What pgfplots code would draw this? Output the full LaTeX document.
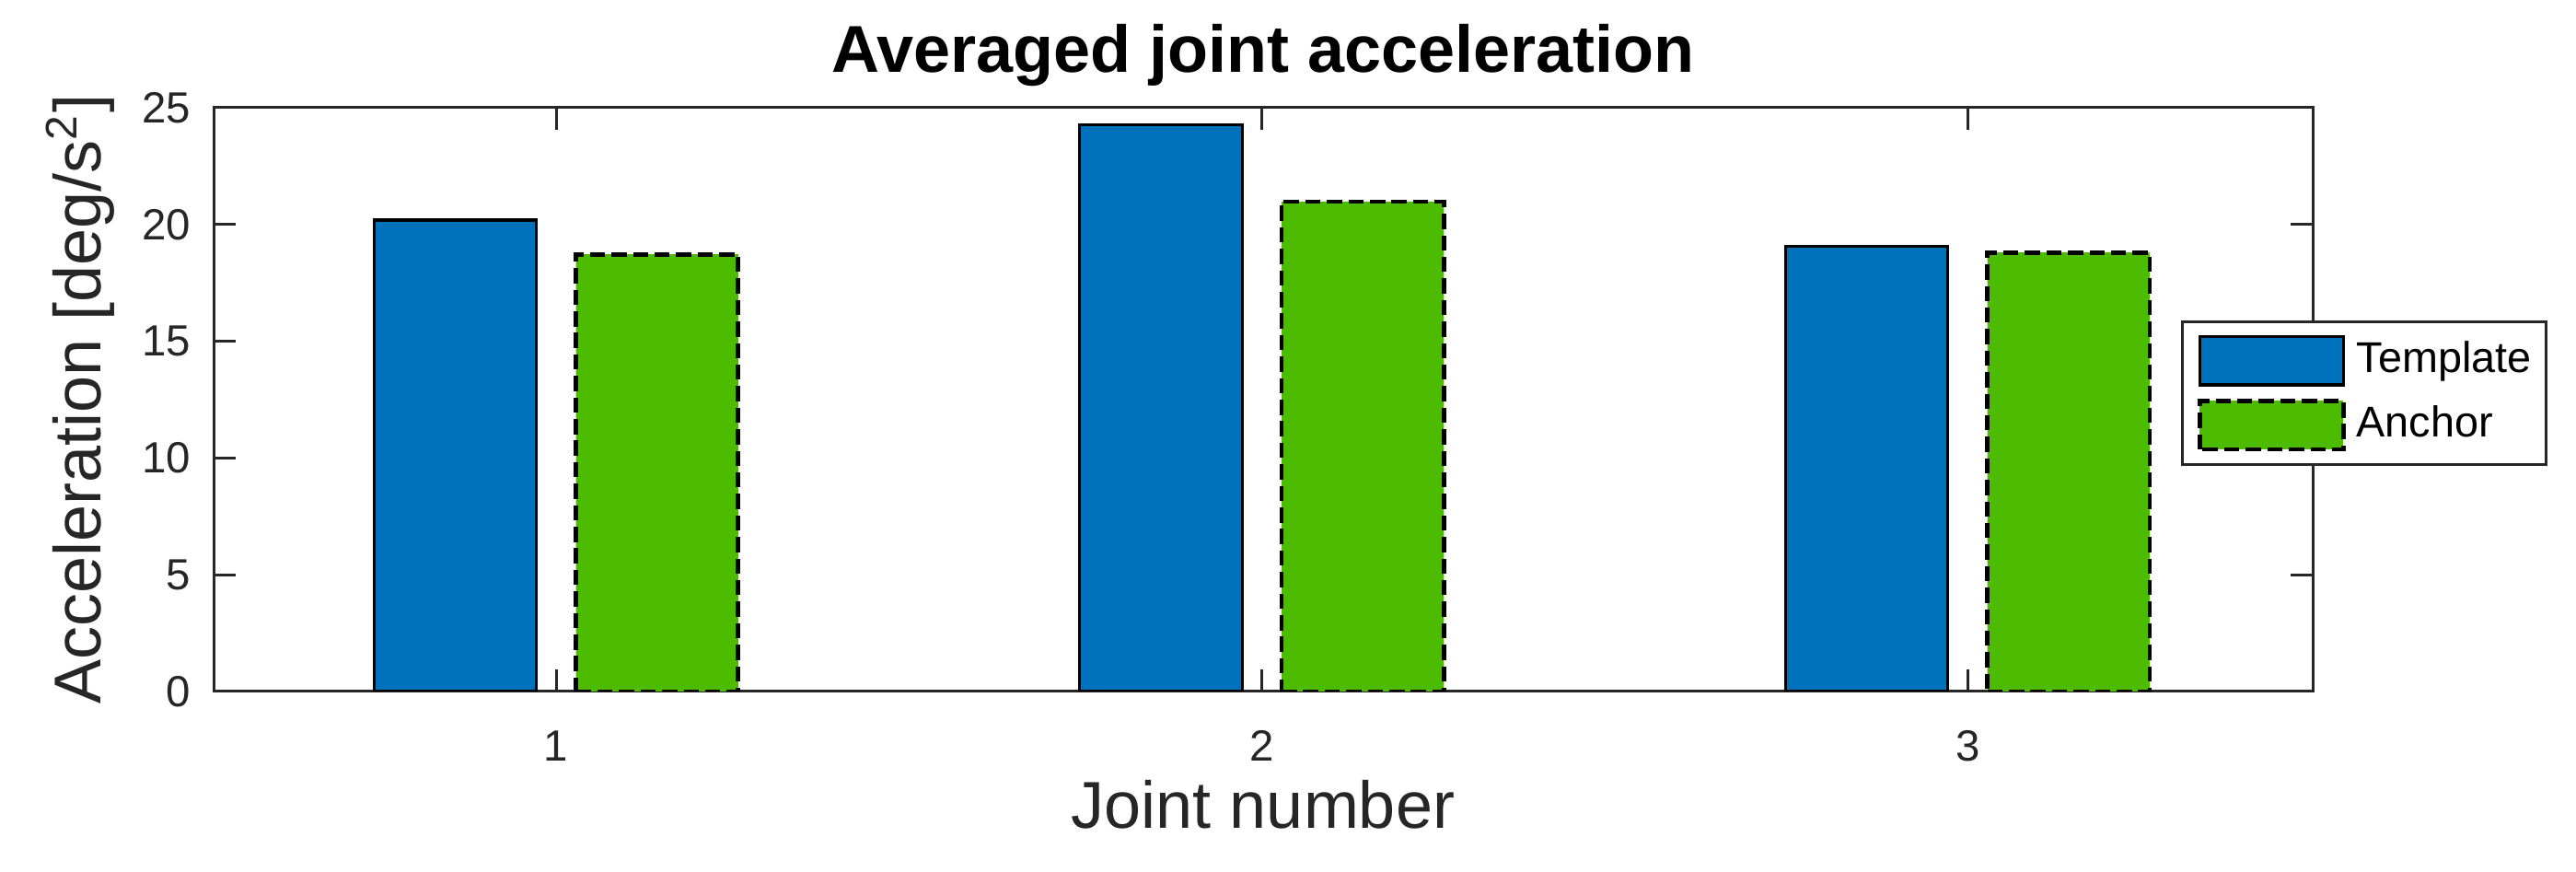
\documentclass[border=0pt]{standalone}
\usepackage{pgfplots}
\pgfplotsset{compat=1.18}
\usepackage{fontspec}
\setmainfont{Liberation Sans}
\definecolor{tplblue}{RGB}{0,114,189}
\definecolor{ancgreen}{RGB}{77,187,0}
\definecolor{axgray}{RGB}{38,38,38}

\begin{document}
\begin{tikzpicture}
\begin{axis}[
  name=ax,
  ybar, bar width=0.23,
  width=380pt, height=105.67pt, scale only axis,
  xmin=0.5147, xmax=3.489, ymin=0, ymax=25,
  xtick={1,2,3}, ytick={0,5,...,25},
  tick align=inside, xtick align=inside, ytick align=inside,
  major tick length=4pt,
  axis line style={axgray, line width=0.5pt},
  tick style={axgray, line width=0.5pt},
  /pgf/number format/assume math mode=true,
  tick label style={font=\fontsize{7.9}{9}\selectfont, text=axgray},
  xticklabel style={anchor=base, inner sep=0pt, yshift=-12.6pt},
  yticklabel style={inner sep=0pt, xshift=-4pt},
  title={Averaged joint acceleration},
  title style={at={(axis description cs:0.5,1.0606)}, anchor=base, yshift=-6pt,
    inner sep=0pt, font=\bfseries\fontsize{12}{14}\selectfont},
  xlabel={Joint number},
  xlabel style={at={(axis description cs:0.5,-0.235)}, anchor=base, inner sep=0pt,
    font=\fontsize{12}{14}\selectfont, text=axgray},
  ylabel={Acceleration [deg/s\textsuperscript{2}]},
  ylabel style={at={(axis description cs:-0.0539,0.5)}, anchor=base, inner sep=0pt,
    font=\fontsize{12}{14}\selectfont, text=axgray},
  legend image code/.code={\draw[#1] (0pt,-4.4pt) rectangle (26pt,4.4pt);},
  legend style={at={(1.0246,0.511)}, anchor=center, draw=axgray, line width=0.5pt,
    inner xsep=2.7pt, inner ysep=2.35pt, row sep=2.2pt, column sep=2pt,
    font=\fontsize{7.8}{9}\selectfont, nodes={inner sep=0pt}},
  legend cell align=left,
]
% Template
\addplot[fill=tplblue, draw=black, line width=0.55pt, bar shift=-0.143]
  coordinates {(1,20.19) (2,24.28) (3,19.06)};
\addlegendentry{Template}
% Anchor
\addplot[fill=ancgreen, draw=black, line width=0.8pt,
  dash pattern=on 2.75pt off 1.15pt, bar shift=0.143]
  coordinates {(1,18.72) (2,20.98) (3,18.80)};
\addlegendentry{Anchor}
\end{axis}
\path (ax.south west) ++(-38.67pt,-32.67pt) rectangle ++(466.33pt,157.83pt);
\end{tikzpicture}
\end{document}
